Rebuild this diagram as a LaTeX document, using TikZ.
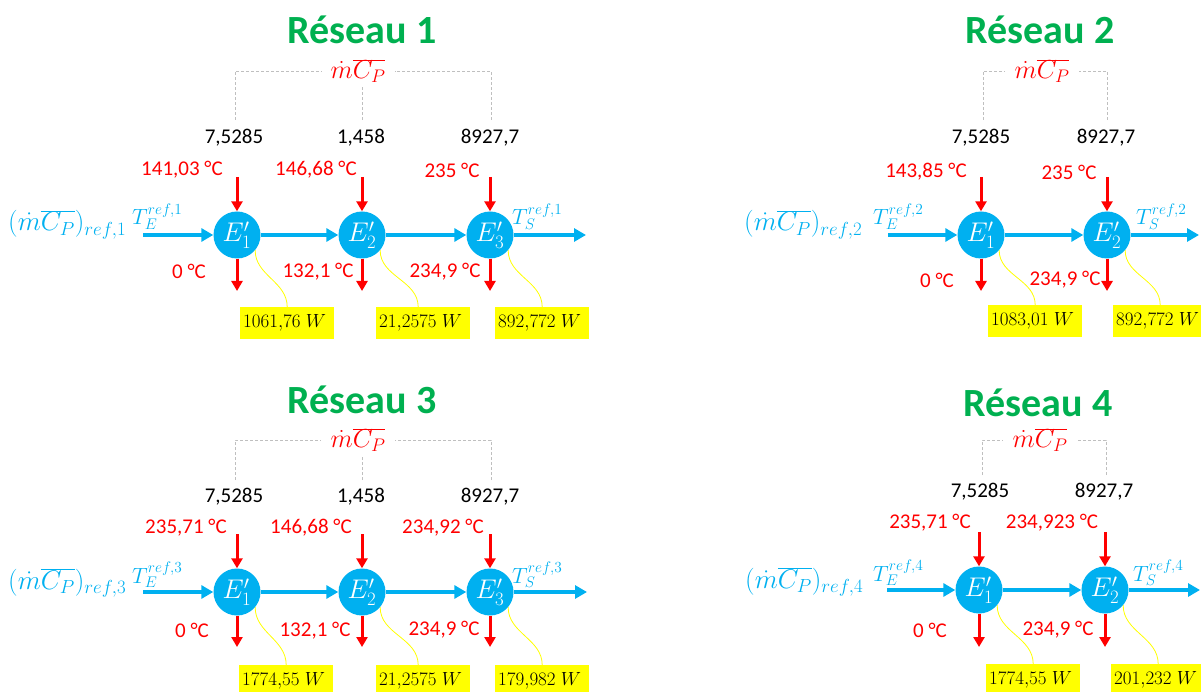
\RequirePackage{fix-cm}
\documentclass[tikz,border=0pt]{standalone}
\usepackage{fontspec}
\setmainfont{Carlito}
\usetikzlibrary{arrows.meta}
\definecolor{cblue}{HTML}{00B0F0}
\definecolor{cred}{HTML}{FF0000}
\definecolor{cgreen}{HTML}{00B050}
\definecolor{cyel}{HTML}{FFFF00}
\definecolor{cgray}{HTML}{BFBFBF}
\tikzset{
  hx/.style={circle, fill=cblue, text=white, minimum size=47pt, inner sep=0pt, font=\fontsize{27}{27}\selectfont},
  ttl/.style={text=cgreen, font=\fontsize{40}{40}\selectfont\bfseries},
  mcp/.style={text=cred, inner xsep=9pt, font=\fontsize{26}{26}\selectfont},
  num/.style={font=\fontsize{21}{21}\selectfont},
  temp/.style={text=cred, font=\fontsize{21}{21}\selectfont},
  flow/.style={draw=cblue, line width=4pt, -{Triangle[length=12pt,width=13pt]}},
  hot/.style={draw=cred, line width=3pt, -{Triangle[length=10pt,width=11pt]}},
  lead/.style={draw=cyel, line width=0.8pt},
  guide/.style={draw=cgray, line width=0.8pt, dash pattern=on 3pt off 2pt},
  pbox/.style={fill=cyel, anchor=north west, minimum height=32pt, text width=88pt, inner xsep=3pt, align=left, font=\fontsize{19}{19}\selectfont},
  lbl/.style={text=cblue, anchor=base west, inner sep=0pt, font=\fontsize{27}{27}\selectfont},
  tlbl/.style={text=cblue, anchor=base west, inner sep=0pt, font=\fontsize{22}{22}\selectfont},
}
\begin{document}
\begin{tikzpicture}[x=1pt,y=-1pt]
\useasboundingbox (0,0) rectangle (1201,692);
\clip (0,0) rectangle (1201,692);

% ---------------- Réseau 1 ----------------
\node[ttl] (n1t) at (362,30) {Réseau 1};
\node[mcp] (n1m) at (358,71) {$\dot m\overline{C_P}$};
\node[num] (n1a) at (234,138) {7,5285};
\node[num] (n1b) at (361,138) {1,458};
\node[num] (n1c) at (490,138) {8927,7};
\coordinate (n1ga) at (235,120);
\coordinate (n1gb) at (362,120);
\coordinate (n1gc) at (491,120);
\draw[guide] (n1ga) |- (n1m.west);
\draw[guide] (n1gc) |- (n1m.east);
\draw[guide] (n1gb) -- (n1gb |- n1m.south);
\node[temp] (n1h1) at (182,170) {141,03 °C};
\node[temp] (n1h2) at (316,170) {146,68 °C};
\node[temp] (n1h3) at (452,170) {235 °C};
\node[hx] (n1e1) at (237,235) {$E'_1$};
\node[hx] (n1e2) at (362,235) {$E'_2$};
\node[hx] (n1e3) at (490,235) {$E'_3$};
\node[temp] (n1c1) at (189,271) {0 °C};
\node[temp] (n1c2) at (318,272) {132,1 °C};
\node[temp] (n1c3) at (445,272) {234,9 °C};
\node[lbl] (n1l) at (8,231) {$(\dot m\overline{C_P})_{ref,1}$};
\node[tlbl] (n1te) at (132,225) {$T_E^{ref,1}$};
\node[tlbl] (n1ts) at (512,225) {$T_S^{ref,1}$};
\coordinate (n1in) at (143,235);
\coordinate (n1out) at (586,235);
\draw[flow] (n1in) -- (n1e1.west);
\draw[flow] (n1e1.east) -- (n1e2.west);
\draw[flow] (n1e2.east) -- (n1e3.west);
\draw[flow] (n1e3.east) -- (n1out);
\coordinate (n1u1) at (237,177);
\coordinate (n1u2) at (362,177);
\coordinate (n1u3) at (490,177);
\coordinate (n1d1) at (237,291);
\coordinate (n1d2) at (362,291);
\coordinate (n1d3) at (490,291);
\draw[hot] (n1u1) -- (n1e1.north);
\draw[hot] (n1u2) -- (n1e2.north);
\draw[hot] (n1u3) -- (n1e3.north);
\draw[hot] (n1e1.south) -- (n1d1);
\draw[hot] (n1e2.south) -- (n1d2);
\draw[hot] (n1e3.south) -- (n1d3);
\node[pbox] (n1p1) at (240,307) {$1061{,}76\;W$};
\node[pbox] (n1p2) at (376,307) {$21{,}2575\;W$};
\node[pbox] (n1p3) at (495,307) {$892{,}772\;W$};
\draw[lead] (n1e1.-40) to[out=-90,in=90] (n1p1.north);
\draw[lead] (n1e2.-40) to[out=-90,in=90] ([xshift=-5pt]n1p2.north);
\draw[lead] (n1e3.-40) to[out=-90,in=90] (n1p3.north);

% ---------------- Réseau 2 ----------------
\node[ttl] (n2t) at (1040,30) {Réseau 2};
\node[mcp] (n2m) at (1042,71) {$\dot m\overline{C_P}$};
\node[num] (n2a) at (981,138) {7,5285};
\node[num] (n2c) at (1106,138) {8927,7};
\coordinate (n2ga) at (983,120);
\coordinate (n2gc) at (1107,120);
\draw[guide] (n2ga) |- (n2m.west);
\draw[guide] (n2gc) |- (n2m.east);
\node[temp] (n2h1) at (926,172) {143,85 °C};
\node[temp] (n2h2) at (1069,172) {235 °C};
\node[hx] (n2e1) at (981,235) {$E'_1$};
\node[hx] (n2e2) at (1107,235) {$E'_2$};
\node[temp] (n2c1) at (937,280) {0 °C};
\node[temp] (n2c2) at (1065,280) {234,9 °C};
\node[lbl] (n2l) at (744,231) {$(\dot m\overline{C_P})_{ref,2}$};
\node[tlbl] (n2te) at (873,225) {$T_E^{ref,2}$};
\node[tlbl] (n2ts) at (1136,225) {$T_S^{ref,2}$};
\coordinate (n2in) at (888,235);
\coordinate (n2out) at (1199,235);
\draw[flow] (n2in) -- (n2e1.west);
\draw[flow] (n2e1.east) -- (n2e2.west);
\draw[flow] (n2e2.east) -- (n2out);
\coordinate (n2u1) at (981,177);
\coordinate (n2u2) at (1107,177);
\coordinate (n2d1) at (981,291);
\coordinate (n2d2) at (1107,291);
\draw[hot] (n2u1) -- (n2e1.north);
\draw[hot] (n2u2) -- (n2e2.north);
\draw[hot] (n2e1.south) -- (n2d1);
\draw[hot] (n2e2.south) -- (n2d2);
\node[pbox] (n2p1) at (988,305) {$1083{,}01\;W$};
\node[pbox] (n2p2) at (1113,305) {$892{,}772\;W$};
\draw[lead] (n2e1.-40) to[out=-90,in=90] (n2p1.north);
\draw[lead] (n2e2.-40) to[out=-90,in=90] (n2p2.north);

% ---------------- Réseau 3 ----------------
\node[ttl] (n3t) at (362,400) {Réseau 3};
\node[mcp] (n3m) at (358,440) {$\dot m\overline{C_P}$};
\node[num] (n3a) at (234,497) {7,5285};
\node[num] (n3b) at (361,497) {1,458};
\node[num] (n3c) at (490,497) {8927,7};
\coordinate (n3ga) at (235,480);
\coordinate (n3gb) at (362,480);
\coordinate (n3gc) at (491,480);
\draw[guide] (n3ga) |- (n3m.west);
\draw[guide] (n3gc) |- (n3m.east);
\draw[guide] (n3gb) -- (n3gb |- n3m.south);
\node[temp] (n3h1) at (186,528) {235,71 °C};
\node[temp] (n3h2) at (311,528) {146,68 °C};
\node[temp] (n3h3) at (443,528) {234,92 °C};
\node[hx] (n3e1) at (237,592) {$E'_1$};
\node[hx] (n3e2) at (362,592) {$E'_2$};
\node[hx] (n3e3) at (490,592) {$E'_3$};
\node[temp] (n3c1) at (192,630) {0 °C};
\node[temp] (n3c2) at (315,631) {132,1 °C};
\node[temp] (n3c3) at (444,630) {234,9 °C};
\node[lbl] (n3l) at (8,589) {$(\dot m\overline{C_P})_{ref,3}$};
\node[tlbl] (n3te) at (132,583) {$T_E^{ref,3}$};
\node[tlbl] (n3ts) at (512,583) {$T_S^{ref,3}$};
\coordinate (n3in) at (143,592);
\coordinate (n3out) at (587,592);
\draw[flow] (n3in) -- (n3e1.west);
\draw[flow] (n3e1.east) -- (n3e2.west);
\draw[flow] (n3e2.east) -- (n3e3.west);
\draw[flow] (n3e3.east) -- (n3out);
\coordinate (n3u1) at (237,534);
\coordinate (n3u2) at (362,534);
\coordinate (n3u3) at (490,534);
\coordinate (n3d1) at (237,647);
\coordinate (n3d2) at (362,647);
\coordinate (n3d3) at (490,647);
\draw[hot] (n3u1) -- (n3e1.north);
\draw[hot] (n3u2) -- (n3e2.north);
\draw[hot] (n3u3) -- (n3e3.north);
\draw[hot] (n3e1.south) -- (n3d1);
\draw[hot] (n3e2.south) -- (n3d2);
\draw[hot] (n3e3.south) -- (n3d3);
\node[pbox] (n3p1) at (239,665) {$1774{,}55\;W$};
\node[pbox] (n3p2) at (376,665) {$21{,}2575\;W$};
\node[pbox] (n3p3) at (495,665) {$179{,}982\;W$};
\draw[lead] (n3e1.-40) to[out=-90,in=90] (n3p1.north);
\draw[lead] (n3e2.-40) to[out=-90,in=90] ([xshift=-5pt]n3p2.north);
\draw[lead] (n3e3.-40) to[out=-90,in=90] (n3p3.north);

% ---------------- Réseau 4 ----------------
\node[ttl] (n4t) at (1038,403) {Réseau 4};
\node[mcp] (n4m) at (1040,440) {$\dot m\overline{C_P}$};
\node[num] (n4a) at (980,492) {7,5285};
\node[num] (n4c) at (1104,492) {8927,7};
\coordinate (n4ga) at (982,475);
\coordinate (n4gc) at (1106,475);
\draw[guide] (n4ga) |- (n4m.west);
\draw[guide] (n4gc) |- (n4m.east);
\node[temp] (n4h1) at (930,523) {235,71 °C};
\node[temp] (n4h2) at (1052,523) {234,923 °C};
\node[hx] (n4e1) at (979,590) {$E'_1$};
\node[hx] (n4e2) at (1105,590) {$E'_2$};
\node[temp] (n4c1) at (930,630) {0 °C};
\node[temp] (n4c2) at (1058,630) {234,9 °C};
\node[lbl] (n4l) at (745,588) {$(\dot m\overline{C_P})_{ref,4}$};
\node[tlbl] (n4te) at (873,581) {$T_E^{ref,4}$};
\node[tlbl] (n4ts) at (1133,581) {$T_S^{ref,4}$};
\coordinate (n4in) at (887,590);
\coordinate (n4out) at (1200,590);
\draw[flow] (n4in) -- (n4e1.west);
\draw[flow] (n4e1.east) -- (n4e2.west);
\draw[flow] (n4e2.east) -- (n4out);
\coordinate (n4u1) at (979,532);
\coordinate (n4u2) at (1105,532);
\coordinate (n4d1) at (979,647);
\coordinate (n4d2) at (1105,647);
\draw[hot] (n4u1) -- (n4e1.north);
\draw[hot] (n4u2) -- (n4e2.north);
\draw[hot] (n4e1.south) -- (n4d1);
\draw[hot] (n4e2.south) -- (n4d2);
\node[pbox] (n4p1) at (986,664) {$1774{,}55\;W$};
\node[pbox] (n4p2) at (1111,664) {$201{,}232\;W$};
\draw[lead] (n4e1.-40) to[out=-90,in=90] (n4p1.north);
\draw[lead] (n4e2.-40) to[out=-90,in=90] (n4p2.north);
\end{tikzpicture}
\end{document}
